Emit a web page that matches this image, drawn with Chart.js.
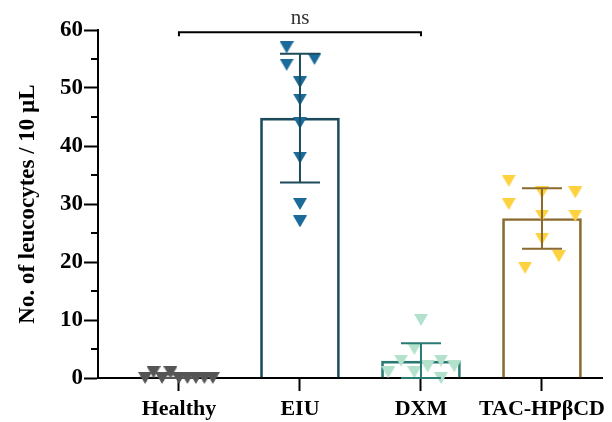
<!DOCTYPE html>
<html>
<head>
<meta charset="utf-8">
<script src="https://cdn.jsdelivr.net/npm/chart.js@4.4.1/dist/chart.umd.min.js"></script>
<style>
  html, body { margin: 0; padding: 0; background: #fff; }
  #wrap { width: 612px; height: 422px; }
</style>
</head>
<body>
<div id="wrap"><canvas id="chart" width="612" height="422"></canvas></div>
<script>
// groups, bar heights (mean) and error bars (SD)
const groups = ["Healthy", "EIU", "DXM", "TAC-HPβCD"];
const means = [0.2, 44.8, 2.9, 27.5];
const sds = [0.4, 11.1, 3.1, 5.2];

// individual animals, with the horizontal spread used in the figure
const healthyValues = [0, 1, 0, 1, 0, 0, 0, 0, 0];
const healthyJitter = [-0.28, -0.21, -0.14, -0.07, 0, 0.07, 0.14, 0.21, 0.28];
const eiuValues = [57, 54, 55, 51, 48, 44, 38, 30, 27];
const eiuJitter = [-0.11, -0.11, 0.12, 0, 0, 0, 0, 0, 0];
const dxmValues = [10, 5, 3, 2, 3, 2, 1, 1, 0];
const dxmJitter = [0, -0.055, -0.165, 0.055, 0.165, 0.275, -0.27, -0.055, 0.165];
const tacValues = [34, 32, 32, 30, 28, 28, 24, 21, 19];
const tacJitter = [-0.275, 0, 0.275, -0.275, 0, 0.275, 0, 0.14, -0.14];

const yTicks = [0, 10, 20, 30, 40, 50, 60];

const markColors = ["#555555", "#1a6b9a", "#b3e2cc", "#fdd23e"];
const lineColors = ["#555555", "#1d4b5c", "#2a7a74", "#8a6a2e"];

const serif = "'Liberation Serif', 'DejaVu Serif', serif";

// downward triangle marker, centred on its box like the original
function triangle(color) {
    const c = document.createElement("canvas");
    c.width = 14;
    c.height = 12;
    const g = c.getContext("2d");
    g.fillStyle = color;
    g.beginPath();
    g.moveTo(0, 0);
    g.lineTo(14, 0);
    g.lineTo(7, 12);
    g.closePath();
    g.fill();
    return c;
}

function points(values, jitter, idx) {
    return values.map((v, k) => ({ x: idx + jitter[k], y: v }));
}

function scatterSet(values, jitter, idx) {
    return {
        type: "scatter",
        data: points(values, jitter, idx),
        pointStyle: triangle(markColors[idx]),
        pointRadius: 7,
        order: 1,
        clip: false
    };
}

const extras = {
    id: "extras",
    afterDatasetsDraw(chart) {
        const ctx = chart.ctx;
        const x = chart.scales.x;
        const y = chart.scales.y;
        ctx.save();
        ctx.lineWidth = 2;

        // error bars
        groups.forEach((g, i) => {
            const cx = x.getPixelForValue(i);
            const top = y.getPixelForValue(means[i] + sds[i]);
            const bot = y.getPixelForValue(Math.max(0, means[i] - sds[i]));
            ctx.strokeStyle = lineColors[i];
            ctx.beginPath();
            ctx.moveTo(cx, top);
            ctx.lineTo(cx, bot);
            ctx.moveTo(cx - 20, top);
            ctx.lineTo(cx + 20, top);
            ctx.moveTo(cx - 20, bot);
            ctx.lineTo(cx + 20, bot);
            ctx.stroke();
        });

        // minor ticks on the y axis
        ctx.strokeStyle = "#000";
        ctx.beginPath();
        for (let v = 5; v < 60; v += 10) {
            const py = y.getPixelForValue(v);
            ctx.moveTo(chart.chartArea.left - 7, py);
            ctx.lineTo(chart.chartArea.left, py);
        }
        ctx.stroke();

        // significance bracket Healthy vs DXM
        const x1 = x.getPixelForValue(0);
        const x2 = x.getPixelForValue(2);
        const by = y.getPixelForValue(59.6);
        ctx.beginPath();
        ctx.moveTo(x1, by + 4);
        ctx.lineTo(x1, by);
        ctx.lineTo(x2, by);
        ctx.lineTo(x2, by + 4);
        ctx.stroke();
        ctx.fillStyle = "#333";
        ctx.font = "21px " + serif;
        ctx.textAlign = "center";
        ctx.textBaseline = "alphabetic";
        ctx.fillText("ns", x.getPixelForValue(1), by - 8);
        ctx.restore();
    }
};

new Chart(document.getElementById("chart"), {
    type: "bar",
    data: {
        datasets: [
            {
                data: means.map((m, i) => ({ x: i, y: m })),
                backgroundColor: "rgba(0,0,0,0)",
                borderColor: lineColors,
                borderWidth: 2,
                barThickness: 79,
                order: 5
            },
            scatterSet(healthyValues, healthyJitter, 0),
            scatterSet(eiuValues, eiuJitter, 1),
            scatterSet(dxmValues, dxmJitter, 2),
            scatterSet(tacValues, tacJitter, 3)
        ]
    },
    options: {
        responsive: false,
        animation: false,
        devicePixelRatio: 1,
        layout: { padding: { top: 30, right: 10, bottom: 0, left: 0 } },
        plugins: {
            legend: { display: false },
            tooltip: { enabled: false }
        },
        scales: {
            x: {
                type: "linear",
                offset: false,
                min: -0.669,
                max: 3.496,
                afterBuildTicks: s => { s.ticks = groups.map((g, i) => ({ value: i })); },
                afterFit: s => { s.height = 44; },
                ticks: {
                    callback: v => groups[v],
                    color: "#000",
                    font: { family: serif, size: 22, weight: "bold" },
                    padding: 5,
                    autoSkip: false,
                    maxRotation: 0
                },
                grid: { offset: false, drawOnChartArea: false, tickLength: 13, tickWidth: 2, tickColor: "#000" },
                border: { color: "#000", width: 2 }
            },
            y: {
                min: 0,
                max: 60,
                afterBuildTicks: s => { s.ticks = yTicks.map(v => ({ value: v })); },
                afterFit: s => { s.width = 98; },
                ticks: {
                    color: "#000",
                    font: { family: serif, size: 23, weight: "bold" },
                    padding: 1
                },
                grid: { drawOnChartArea: false, tickLength: 14, tickWidth: 2, tickColor: "#000" },
                border: { color: "#000", width: 2 },
                title: {
                    display: true,
                    text: "No. of leucocytes / 10 µL",
                    color: "#000",
                    font: { family: serif, size: 23, weight: "bold" },
                    padding: { top: 14, bottom: 0 }
                }
            }
        }
    },
    plugins: [extras]
});
</script>
</body>
</html>
